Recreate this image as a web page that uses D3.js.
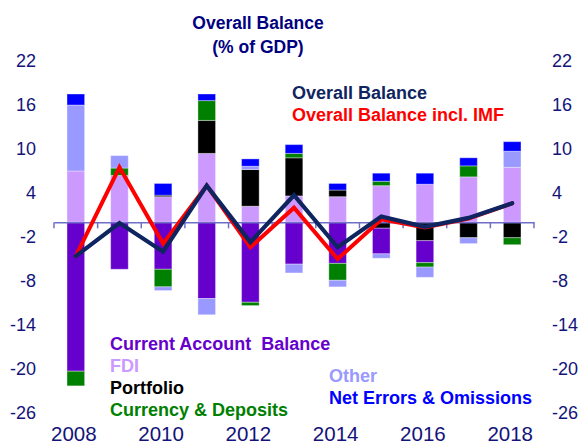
<!DOCTYPE html>
<html><head><meta charset="utf-8">
<script src="https://cdn.jsdelivr.net/npm/d3@7/dist/d3.min.js"></script>
<style>
body{margin:0;background:#fff;}
text{font-family:"Liberation Sans",Arial,sans-serif;}
</style></head>
<body><svg id="c" width="581" height="446"></svg>
<script>
const years = [2008,2009,2010,2011,2012,2013,2014,2015,2016,2017,2018];
const currentAccount = [-20.3,-6.4,-6.4,-10.4,-10.9,-5.7,-5.6,-3.5,-3.0,0,0];
const fdi = [7.0,6.4,3.5,9.4,2.2,3.6,3.5,5.0,5.2,6.2,7.5];
const portfolio = [0,0,0.2,4.5,5.0,5.2,0.9,-0.8,-2.5,-2.1,-2.1];
const currency = [-2.0,1.0,-2.4,2.7,-0.45,0.6,-2.3,0.6,-0.6,1.5,-0.95];
const other = [9.0,1.7,-0.5,-2.2,0.45,-1.2,-0.9,-0.6,-1.4,-0.8,2.2];
const netErrors = [1.5,0,1.6,0.9,1.0,1.2,0.9,1.1,1.5,1.1,1.3];
const overallBalance = [-4.6,-0.1,-4.0,5.0,-2.7,3.7,-3.4,0.8,-0.6,0.6,2.6];
const overallInclIMF = [-4.6,7.5,-2.9,5.0,-3.4,2.0,-5.0,0.4,-0.7,0.5,2.6];
const yTicks = [22,16,10,4,-2,-8,-14,-20,-26];
const xLabels = [2008,2010,2012,2014,2016,2018];

const keys = ["FDI","Portfolio","CA","Currency","Other","NEO"];
const colors = {CA:"#6600CC",FDI:"#CC99FF",Portfolio:"#000000",Currency:"#008000",Other:"#9999FF",NEO:"#0000FF"};
const table = years.map((y,i)=>({year:y,CA:currentAccount[i],FDI:fdi[i],Portfolio:portfolio[i],Currency:currency[i],Other:other[i],NEO:netErrors[i]}));

const svg = d3.select("#c");
const xc = d3.scaleBand().domain(years).range([54,534]);
const y = d3.scaleLinear().domain([-26,22]).range([413,61]);

const series = d3.stack().keys(keys).offset(d3.stackOffsetDiverging)(table);
svg.append("g").selectAll("g").data(series).join("g")
  .attr("fill",d=>colors[d.key])
  .selectAll("rect").data(d=>d).join("rect")
  .attr("x",d=>xc(d.data.year)+xc.bandwidth()/2-8.8)
  .attr("width",17.6)
  .attr("y",d=>y(Math.max(d[0],d[1])))
  .attr("height",d=>Math.abs(y(d[0])-y(d[1])))
  .attr("stroke","rgba(255,255,255,0.35)").attr("stroke-width",1);

// x axis line with ticks
const ax = svg.append("g").attr("transform",`translate(0,${y(0)})`)
  .call(d3.axisBottom(xc).tickSize(0).tickFormat(""));
ax.select(".domain").attr("stroke","#6f6fc8").attr("stroke-width",1.5);
ax.selectAll(".edge").data(d3.range(years.length+1)).join("line").attr("class","edge")
  .attr("x1",i=>54+i*xc.step()).attr("x2",i=>54+i*xc.step())
  .attr("y1",0).attr("y2",6).attr("stroke","#6f6fc8").attr("stroke-width",1.5);

// x labels
svg.append("g").selectAll("text").data(xLabels).join("text")
  .attr("x",d=>xc(d)+xc.bandwidth()/2-2).attr("y",441)
  .attr("text-anchor","middle").attr("font-size",20.5).attr("fill","#13137a")
  .text(d=>String(d));

// y axes
const fmt = d=>String(d);
const yl = svg.append("g").attr("transform","translate(36,0)")
  .call(d3.axisLeft(y).tickValues(yTicks).tickSize(0).tickPadding(0).tickFormat(fmt));
const yr = svg.append("g").attr("transform","translate(552,0)")
  .call(d3.axisRight(y).tickValues(yTicks).tickSize(0).tickPadding(0).tickFormat(fmt));
[yl,yr].forEach(g=>{
  g.select(".domain").remove();
  g.selectAll("text").attr("font-size",18).attr("fill","#13137a")
   .attr("font-family","'Liberation Sans',Arial,sans-serif");
});

// lines
const line = d3.line().x((d,i)=>xc(years[i])+xc.bandwidth()/2).y(d=>y(d));
svg.append("path").datum(overallInclIMF).attr("d",line).attr("fill","none")
  .attr("stroke","#FF0000").attr("stroke-width",4).attr("stroke-linecap","round");
svg.append("path").datum(overallBalance).attr("d",line).attr("fill","none")
  .attr("stroke","#0F2560").attr("stroke-width",4.2).attr("stroke-linecap","round");

// title
svg.append("text").attr("x",258).attr("y",29).attr("text-anchor","middle")
  .attr("font-size",17.5).attr("font-weight","bold").attr("fill","#000080").text("Overall Balance");
svg.append("text").attr("x",258).attr("y",53).attr("text-anchor","middle")
  .attr("font-size",17.5).attr("font-weight","bold").attr("fill","#000080").text("(% of GDP)");

// legends
const leg = [
  {t:"Overall Balance",x:292,y:99,c:"#0F2560"},
  {t:"Overall Balance incl. IMF",x:292,y:121,c:"#FF0000"},
  {t:"Current Account\u00a0 Balance",x:110,y:350,c:"#6600CC"},
  {t:"FDI",x:110,y:372,c:"#CC99FF"},
  {t:"Portfolio",x:110,y:394,c:"#000000"},
  {t:"Currency & Deposits",x:110,y:416,c:"#008000"},
  {t:"Other",x:329,y:382,c:"#9999FF"},
  {t:"Net Errors & Omissions",x:329,y:404,c:"#0000FF"}
];
svg.append("g").selectAll("text").data(leg).join("text")
  .attr("x",d=>d.x).attr("y",d=>d.y).attr("fill",d=>d.c)
  .attr("font-size",18).attr("font-weight","bold").text(d=>d.t);
</script></body></html>
